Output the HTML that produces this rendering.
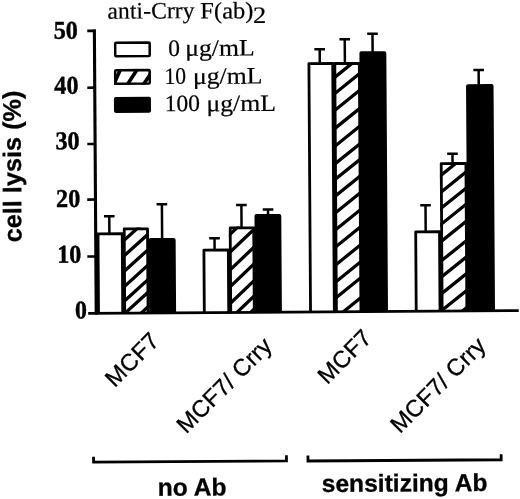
<!DOCTYPE html>
<html><head><meta charset="utf-8"><title>chart</title>
<style>
html,body{margin:0;padding:0;background:#fff;}
svg{display:block;}
.ser{font-family:"Liberation Serif",serif;stroke:#000;stroke-width:0.2px;}
.san{font-family:"Liberation Sans",sans-serif;stroke:#000;stroke-width:0.3px;}
</style></head><body>
<svg width="520" height="499" viewBox="0 0 520 499">
<rect width="520" height="499" fill="#fff"/>
<g transform="rotate(-0.372 260 250)">
<path d="M104.2 215.2H114.8M109.5 215.2V232.3" stroke="#000" stroke-width="2.5" fill="none"/>
<path d="M98.12 312.3V232.73H122.32V312.3" fill="none" stroke="#000" stroke-width="2.8" stroke-linejoin="round"/>
<clipPath id="c1"><rect x="122.9" y="226.7" width="26.1" height="85.6"/></clipPath>
<path d="M121.9 241.5L150.0 216.4M121.9 256.9L150.0 231.8M121.9 272.3L150.0 247.2M121.9 287.7L150.0 262.6M121.9 302.1L150.0 277.0M121.9 314.7L150.0 289.6M121.9 329.2L150.0 304.1" stroke="#000" stroke-width="3.3" fill="none" clip-path="url(#c1)"/>
<path d="M124.35 312.3V228.09H147.65V312.3" fill="none" stroke="#000" stroke-width="2.8" stroke-linejoin="round"/>
<path d="M156.9 203.6H167.5M162.2 203.6V238.4" stroke="#000" stroke-width="2.5" fill="none"/>
<path d="M148.8 312.3V239.4Q148.8 237.4 150.8 237.4H173.7Q175.7 237.4 175.7 239.4V312.3Z" fill="#000"/>
<path d="M209.3 237.9H219.9M214.6 237.9V249.3" stroke="#000" stroke-width="2.5" fill="none"/>
<path d="M203.91 312.3V249.71H228.31V312.3" fill="none" stroke="#000" stroke-width="2.8" stroke-linejoin="round"/>
<path d="M236.4 204.9H247.0M241.7 204.9V227.4" stroke="#000" stroke-width="2.5" fill="none"/>
<clipPath id="c2"><rect x="229.0" y="226.4" width="26.3" height="85.9"/></clipPath>
<path d="M228.0 236.2L256.3 209.5M228.0 253.9L256.3 227.2M228.0 271.6L256.3 244.9M228.0 288.3L256.3 261.6M228.0 305.0L256.3 278.3M228.0 320.4L256.3 293.7M228.0 333.4L256.3 306.7" stroke="#000" stroke-width="3.3" fill="none" clip-path="url(#c2)"/>
<path d="M230.35 312.3V227.78H253.85V312.3" fill="none" stroke="#000" stroke-width="2.8" stroke-linejoin="round"/>
<path d="M263.0 209.5H273.6M268.3 209.5V215.1" stroke="#000" stroke-width="2.5" fill="none"/>
<path d="M254.7 312.3V216.1Q254.7 214.1 256.7 214.1H279.5Q281.5 214.1 281.5 216.1V312.3Z" fill="#000"/>
<path d="M315.7 49.6H326.3M321.0 49.6V63.5" stroke="#000" stroke-width="2.5" fill="none"/>
<path d="M310.12 312.3V63.90H333.92V312.3" fill="none" stroke="#000" stroke-width="2.8" stroke-linejoin="round"/>
<path d="M340.8 39.8H351.4M346.1 39.8V63.6" stroke="#000" stroke-width="2.5" fill="none"/>
<clipPath id="c3"><rect x="334.6" y="62.6" width="27.3" height="249.7"/></clipPath>
<path d="M333.6 79.6L362.9 56.3M333.6 95.8L362.9 72.5M333.6 112.5L362.9 89.2M333.6 130.6L362.9 107.3M333.6 148.3L362.9 125.0M333.6 165.9L362.9 142.6M333.6 181.5L362.9 158.2M333.6 198.2L362.9 174.9M333.6 215.0L362.9 191.7M333.6 231.9L362.9 208.6M333.6 249.0L362.9 225.7M333.6 267.0L362.9 243.7M333.6 283.9L362.9 260.6M333.6 299.9L362.9 276.6M333.6 319.8L362.9 296.5M333.6 337.0L362.9 313.7" stroke="#000" stroke-width="3.3" fill="none" clip-path="url(#c3)"/>
<path d="M336.02 312.3V63.97H360.52V312.3" fill="none" stroke="#000" stroke-width="2.8" stroke-linejoin="round"/>
<path d="M368.6 34.5H379.2M373.9 34.5V53.0" stroke="#000" stroke-width="2.5" fill="none"/>
<path d="M360.7 312.3V54.0Q360.7 52.0 362.7 52.0H385.6Q387.6 52.0 387.6 54.0V312.3Z" fill="#000"/>
<path d="M420.5 206.4H431.1M425.8 206.4V232.4" stroke="#000" stroke-width="2.5" fill="none"/>
<path d="M415.82 312.3V232.79H439.62V312.3" fill="none" stroke="#000" stroke-width="2.8" stroke-linejoin="round"/>
<path d="M447.8 155.0H458.4M453.1 155.0V164.4" stroke="#000" stroke-width="2.5" fill="none"/>
<clipPath id="c4"><rect x="440.4" y="163.4" width="27.5" height="148.9"/></clipPath>
<path d="M439.4 178.1L468.9 154.7M439.4 194.9L468.9 171.5M439.4 211.0L468.9 187.6M439.4 227.0L468.9 203.6M439.4 244.1L468.9 220.7M439.4 263.5L468.9 240.1M439.4 279.6L468.9 256.2M439.4 296.4L468.9 273.0M439.4 313.2L468.9 289.8M439.4 330.3L468.9 306.9" stroke="#000" stroke-width="3.3" fill="none" clip-path="url(#c4)"/>
<path d="M441.77 312.3V164.76H466.47V312.3" fill="none" stroke="#000" stroke-width="2.8" stroke-linejoin="round"/>
<path d="M474.5 71.5H485.1M479.8 71.5V86.6" stroke="#000" stroke-width="2.5" fill="none"/>
<path d="M467.1 312.3V87.6Q467.1 85.6 469.1 85.6H492.6Q494.6 85.6 494.6 87.6V312.3Z" fill="#000"/>
<path d="M95.8 28.3V313.6" stroke="#000" stroke-width="3.1" fill="none"/>
<path d="M87.8 312.3H518.3" stroke="#000" stroke-width="2.7" fill="none"/>
<path d="M88.7 29.8H95.8" stroke="#000" stroke-width="2.6" fill="none"/>
<path d="M88.4 86.6H95.8" stroke="#000" stroke-width="2.6" fill="none"/>
<path d="M88.0 142.9H95.8" stroke="#000" stroke-width="2.6" fill="none"/>
<path d="M87.6 198.5H95.8" stroke="#000" stroke-width="2.6" fill="none"/>
<path d="M87.3 255.4H95.8" stroke="#000" stroke-width="2.6" fill="none"/>
<text class="ser" x="55.1" y="37.5" font-size="25.6" font-weight="bold" style="stroke-width:0.4px" textLength="24.3" lengthAdjust="spacingAndGlyphs">50</text>
<text class="ser" x="55.4" y="92.4" font-size="25.6" font-weight="bold" style="stroke-width:0.4px" textLength="24.3" lengthAdjust="spacingAndGlyphs">40</text>
<text class="ser" x="56.1" y="148.0" font-size="25.6" font-weight="bold" style="stroke-width:0.4px" textLength="24.3" lengthAdjust="spacingAndGlyphs">30</text>
<text class="ser" x="56.3" y="205.8" font-size="25.6" font-weight="bold" style="stroke-width:0.4px" textLength="24.3" lengthAdjust="spacingAndGlyphs">20</text>
<text class="ser" x="57.1" y="261.5" font-size="25.6" font-weight="bold" style="stroke-width:0.4px" textLength="24.3" lengthAdjust="spacingAndGlyphs">10</text>
<text class="ser" x="74.5" y="317.3" font-size="25.6" font-weight="bold" style="stroke-width:0.4px" textLength="12" lengthAdjust="spacingAndGlyphs">0</text>
<text class="ser" x="109.1" y="17.7" font-size="23.5" letter-spacing="0.1">anti-Crry</text>
<text class="ser" x="201.8" y="18.2" font-size="23.5" textLength="53.2" lengthAdjust="spacingAndGlyphs">F(ab)</text>
<text class="ser" x="254.6" y="22.9" font-size="23.5" textLength="13.3" lengthAdjust="spacingAndGlyphs">2</text>
<rect x="116.51" y="41.70" width="34.5" height="13.5" rx="1" fill="#fff" stroke="#000" stroke-width="2.5"/>
<text class="ser" x="169.4" y="55.3" font-size="23.5">0</text>
<text class="ser" x="186.4" y="55.4" font-size="23.5" textLength="69.6" lengthAdjust="spacingAndGlyphs">μg/mL</text>
<clipPath id="lc"><rect x="115.08" y="68.05" width="37.0" height="16.0"/></clipPath><path d="M114.5 84.3L121.8 68.1M128.0 84.3L138.7 68.2M144.0 84.4L155.0 68.3" stroke="#000" stroke-width="3.6" clip-path="url(#lc)"/><rect x="116.33" y="69.30" width="34.5" height="13.5" rx="1" fill="none" stroke="#000" stroke-width="2.5"/>
<text class="ser" x="165.6" y="83.3" font-size="23.5" textLength="21.7" lengthAdjust="spacingAndGlyphs">10</text>
<text class="ser" x="194.0" y="83.5" font-size="23.5" textLength="69.6" lengthAdjust="spacingAndGlyphs">μg/mL</text>
<rect x="114.90" y="95.95" width="37.0" height="16.0" rx="1.8" fill="#000"/>
<text class="ser" x="165.6" y="110.6" font-size="23.5" textLength="35.2" lengthAdjust="spacingAndGlyphs">100</text>
<text class="ser" x="207.3" y="110.9" font-size="23.5" textLength="69.6" lengthAdjust="spacingAndGlyphs">μg/mL</text>
<text class="san" transform="translate(21.5 240.8) rotate(-90)" font-size="25.3" font-weight="bold">cell lysis (%)</text>
<text class="san" transform="translate(113.9 387.3) rotate(-44.63)" font-size="23.6" letter-spacing="0.15">MCF7</text>
<text class="san" transform="translate(185.0 434.1) rotate(-44.63)" font-size="23.6" letter-spacing="0.15">MCF7/ Crry</text>
<text class="san" transform="translate(326.4 385.7) rotate(-44.63)" font-size="23.6" letter-spacing="0.15">MCF7</text>
<text class="san" transform="translate(398.8 435.2) rotate(-44.63)" font-size="23.6" letter-spacing="0.15">MCF7/ Crry</text>
<path d="M92.2 455.6V461.1H285.1V455.4" stroke="#000" stroke-width="2.8" fill="none"/>
<path d="M306.6 455.9V461.3H499.8V455.8" stroke="#000" stroke-width="2.8" fill="none"/>
<text class="san" x="156.1" y="495.1" font-size="24.6" font-weight="bold">no Ab</text>
<text class="san" x="320.2" y="492.4" font-size="24.6" font-weight="bold">sensitizing Ab</text>
</g>
</svg></body></html>
